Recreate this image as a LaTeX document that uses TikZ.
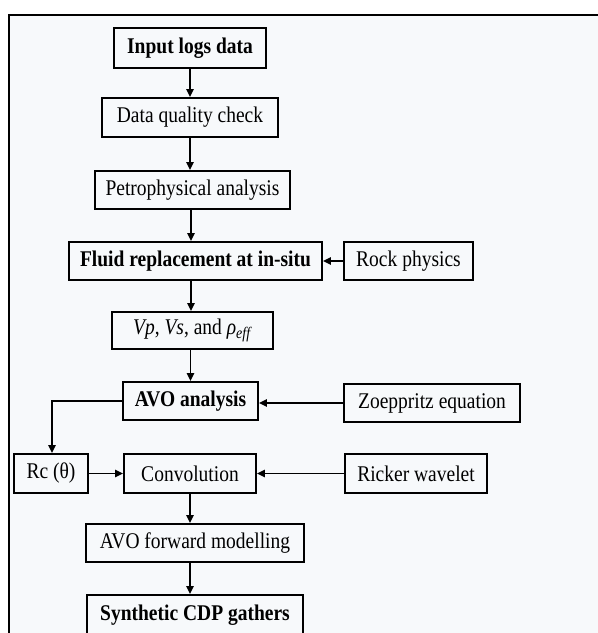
\documentclass[tikz,border=0pt]{standalone}
\usepackage{fontspec}
\setmainfont{Liberation Serif}
\usetikzlibrary{arrows.meta}
\definecolor{bg}{HTML}{F7F9FB}
\newcommand{\tx}[1]{\scalebox{1}[1.15]{#1}}
\begin{document}
\begin{tikzpicture}[x=1pt,y=-1pt,
  box/.style={draw, line width=1.6pt, inner sep=0pt, align=center, font=\fontsize{19.5}{22}\selectfont},
  bbox/.style={box, font=\fontsize{19.5}{22}\selectfont\bfseries},
  arr/.style={-{Triangle[length=8pt,width=7pt]}, line width=1.9pt}]
\useasboundingbox (0,0) rectangle (598,633);
\clip (0,0) rectangle (598,633);
\fill[white] (0,0) rectangle (598,633);
\draw[fill=bg, line width=2pt] (9,15) rectangle (612,660);

\node[bbox, minimum width=152pt, minimum height=40pt] (in) at (190,48) {\tx{Input logs data}};
\node[box, minimum width=176pt, minimum height=39pt] (dq) at (190,117.5) {\tx{Data quality check}};
\node[box, minimum width=195pt, minimum height=38pt] (pa) at (192.5,190) {\tx{Petrophysical analysis}};
\node[bbox, minimum width=253pt, minimum height=38pt] (fr) at (195.5,261) {\tx{Fluid replacement at in-situ}};
\node[box, minimum width=129pt, minimum height=38pt] (rp) at (408.5,261) {\tx{Rock physics}};
\node[box, minimum width=161pt, minimum height=37pt] (vp) at (192.5,330.5) {\tx{\textit{Vp}, \textit{Vs}, and \textit{ρ}\raisebox{-0.35ex}{\fontsize{14}{14}\selectfont\textit{eff}}}};
\node[bbox, minimum width=135pt, minimum height=38pt] (avo) at (190.5,401) {\tx{AVO analysis}};
\node[box, minimum width=176pt, minimum height=38pt] (zo) at (432,403) {\tx{Zoeppritz equation}};
\node[box, minimum width=74pt, minimum height=39pt] (rc) at (51,473.5) {\tx{Rc (θ)}};
\node[box, minimum width=132pt, minimum height=39pt] (cv) at (190,473.5) {\tx{Convolution}};
\node[box, minimum width=142pt, minimum height=39pt] (rw) at (416,473.5) {\tx{Ricker wavelet}};
\node[box, minimum width=218pt, minimum height=38pt] (fm) at (195,543) {\tx{AVO forward modelling}};
\node[bbox, minimum width=216pt, minimum height=40pt] (sg) at (195,615) {\tx{Synthetic CDP gathers}};

\draw[arr] (in.south) -- (in.south |- dq.north);
\draw[arr] (dq.south) -- (dq.south |- pa.north);
\draw[arr] ([xshift=-1.5pt]pa.south) -- ([xshift=-1.5pt]pa.south |- fr.north);
\draw[arr] ([xshift=-4.5pt]fr.south) -- ([xshift=-4.5pt]fr.south |- vp.north);
\draw[arr] ([xshift=-2pt]vp.south) -- ([xshift=-2pt]vp.south |- avo.north);
\draw[arr] (cv.south) -- (cv.south |- fm.north);
\draw[arr] ([xshift=-5pt]fm.south) -- ([xshift=-5pt]fm.south |- sg.north);
\draw[arr] (rp.west) -- (rp.west -| fr.east);
\draw[arr] (zo.west) -- (zo.west -| avo.east);
\draw[arr] (rw.west) -- (rw.west -| cv.east);
\draw[arr] (rc.east) -- (cv.west);
\draw[arr] (avo.west) -| ([xshift=1pt]rc.north);
\end{tikzpicture}
\end{document}
